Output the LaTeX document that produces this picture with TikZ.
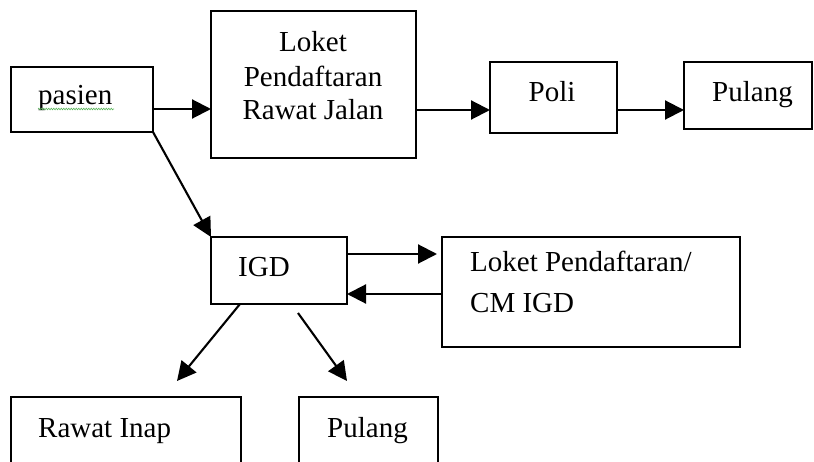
\documentclass[tikz,border=0pt]{standalone}
\usepackage{fontspec}
\setmainfont{Liberation Serif}
\usetikzlibrary{arrows.meta,decorations.pathmorphing}
\definecolor{spellgreen}{RGB}{90,180,90}
\begin{document}
\begin{tikzpicture}[x=1pt,y=-1pt,
  box/.style={draw,line width=2.7pt,inner sep=0pt,outer sep=0pt,anchor=north west},
  txt/.style={inner sep=0pt,anchor=base west,font=\fontsize{29}{33}\selectfont},
  txtc/.style={txt,anchor=base},
  arr/.style={line width=2.1pt,-{Triangle[length=19pt,width=19pt]}}]
\useasboundingbox (0,0) rectangle (814,462);
\clip (0,0) rectangle (814,462);
% boxes
\node[box,minimum width=142pt,minimum height=65pt] (pasien) at (11,67) {};
\node[box,minimum width=205pt,minimum height=147pt] (loket) at (211,11) {};
\node[box,minimum width=127pt,minimum height=71pt] (poli) at (490,62) {};
\node[box,minimum width=128pt,minimum height=67pt] (pulang1) at (684,62) {};
\node[box,minimum width=136pt,minimum height=67pt] (igd) at (211,237) {};
\node[box,minimum width=298pt,minimum height=110pt] (cm) at (442,237) {};
\node[box,minimum width=230pt,minimum height=110pt] (rawat) at (11,397) {};
\node[box,minimum width=139pt,minimum height=110pt] (pulang2) at (299,397) {};
% texts
\node[txt] (tpasien) at (38,105) {pasien};
\draw[spellgreen,line width=0.6pt,decorate,decoration={snake,amplitude=0.8pt,segment length=2.5pt}] (tpasien.base west) ++(0,4) -- ++(76,0);
\node[txtc] (tloket1) at (313,52) {Loket};
\node[txtc] (tloket2) at (313,87) {Pendaftaran};
\node[txtc] (tloket3) at (313,120) {Rawat Jalan};
\node[txtc] (tpoli) at (552,102) {Poli};
\node[txt] (tpulang1) at (712,102) {Pulang};
\node[txt] (tigd) at (238,277) {IGD};
\node[txt] (tcm1) at (470,272) {Loket Pendaftaran/};
\node[txt] (tcm2) at (470,313) {CM IGD};
\node[txt] (trawat) at (38,437) {Rawat Inap};
\node[txt] (tpulang2) at (327,437) {Pulang};
% connectors
\coordinate (r1) at (0,109);
\coordinate (r2) at (0,110);
\coordinate (r3) at (0,254);
\coordinate (r4) at (0,294);
\draw[arr] (pasien.east |- r1) -- (loket.west |- r1);
\draw[arr] (loket.east |- r2) -- (poli.west |- r2);
\draw[arr] (poli.east |- r2) -- (pulang1.west |- r2);
\draw[arr] (pasien.south east) -- (igd.north west);
\draw[arr] (igd.east |- r3) -- ([xshift=-5pt]cm.west |- r3);
\draw[arr] (cm.west |- r4) -- (igd.east |- r4);
\coordinate (s1) at ([xshift=29pt]igd.south west);
\coordinate (e1) at (177,381);
\coordinate (s2) at (298,313);
\coordinate (e2) at (347,381);
\draw[arr] (s1) -- (e1);
\draw[arr] (s2) -- (e2);
\end{tikzpicture}
\end{document}
